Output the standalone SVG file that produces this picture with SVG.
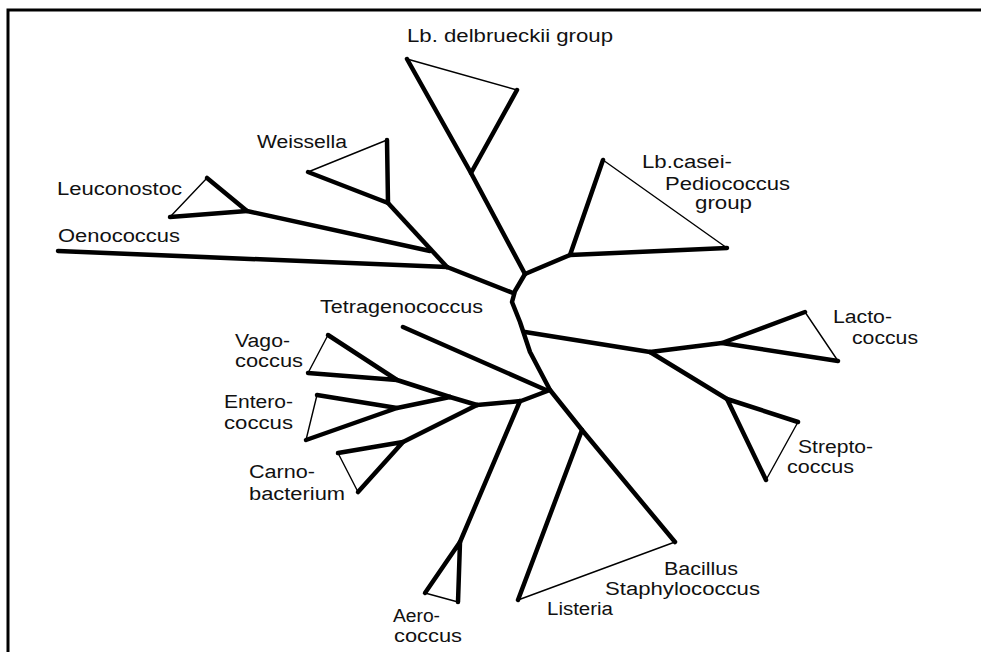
<svg xmlns="http://www.w3.org/2000/svg" width="981" height="652" viewBox="0 0 981 652">
<style>
.frame{stroke:#000;stroke-width:3;fill:none}
.br{stroke:#000;stroke-width:4.5;fill:none;stroke-linecap:round;stroke-linejoin:round}
.thin{stroke:#000;stroke-width:1.4;fill:none;stroke-linecap:round}
text{font-family:"Liberation Sans",Arial,sans-serif;font-size:18px;fill:#111}
</style>
<rect width="981" height="652" fill="#fff"/>
<path class="frame" d="M8,652 L8,10 L981,10"/>
<g id="connectors">
<line class="br" x1="58" y1="251" x2="447" y2="267"/>
<line class="br" x1="247" y1="211" x2="430" y2="251"/>
<line class="br" x1="388" y1="203" x2="447" y2="267"/>
<line class="br" x1="447" y1="267" x2="513" y2="293"/>
<line class="br" x1="471" y1="173" x2="525" y2="274"/>
<line class="br" x1="525" y1="274" x2="570" y2="255"/>
<polyline class="br" points="525,274 515,291 512,302 520,322 530,352 550,390 582,430"/>
<line class="br" x1="525" y1="332" x2="650" y2="352"/>
<line class="br" x1="650" y1="352" x2="722" y2="343"/>
<line class="br" x1="650" y1="352" x2="727" y2="399"/>
<line class="br" x1="403" y1="327" x2="546" y2="390"/>
<polyline class="br" points="550,390 521,401 477,405"/>
<line class="br" x1="520" y1="401" x2="460" y2="542"/>
<line class="br" x1="477" y1="405" x2="450" y2="397"/>
<line class="br" x1="450" y1="397" x2="397" y2="380"/>
<line class="br" x1="450" y1="397" x2="397" y2="408"/>
<line class="br" x1="477" y1="405" x2="403" y2="442"/>
</g>
<g id="lb-delbrueckii">
<polyline class="br" points="407,59 471,173 517,90"/>
<line class="thin" x1="407" y1="59" x2="517" y2="90"/>
<text x="407" y="42" textLength="206" lengthAdjust="spacingAndGlyphs">Lb. delbrueckii group</text>
</g>
<g id="weissella">
<polyline class="br" points="308,172 388,203 387,140"/>
<line class="thin" x1="308" y1="172" x2="387" y2="140"/>
<text x="257" y="148" textLength="90" lengthAdjust="spacingAndGlyphs">Weissella</text>
</g>
<g id="leuconostoc">
<polyline class="br" points="207,178 247,211 170,217"/>
<line class="thin" x1="207" y1="178" x2="170" y2="217"/>
<text x="57" y="195" textLength="125" lengthAdjust="spacingAndGlyphs">Leuconostoc</text>
</g>
<g id="oenococcus">
<text x="58" y="242" textLength="122" lengthAdjust="spacingAndGlyphs">Oenococcus</text>
</g>
<g id="tetragenococcus">
<text x="320" y="313" textLength="163" lengthAdjust="spacingAndGlyphs">Tetragenococcus</text>
</g>
<g id="lb-casei">
<polyline class="br" points="603,160 570,255 727,248"/>
<line class="thin" x1="603" y1="160" x2="727" y2="248"/>
<text x="642" y="168" textLength="90" lengthAdjust="spacingAndGlyphs">Lb.casei-</text>
<text x="665" y="190" textLength="125" lengthAdjust="spacingAndGlyphs">Pediococcus</text>
<text x="695" y="209" textLength="57" lengthAdjust="spacingAndGlyphs">group</text>
</g>
<g id="lactococcus">
<polyline class="br" points="805,312 722,343 838,361"/>
<line class="thin" x1="805" y1="312" x2="838" y2="361"/>
<text x="833" y="323" textLength="59" lengthAdjust="spacingAndGlyphs">Lacto-</text>
<text x="852" y="344" textLength="66" lengthAdjust="spacingAndGlyphs">coccus</text>
</g>
<g id="streptococcus">
<polyline class="br" points="798,422 727,399 766,480"/>
<line class="thin" x1="798" y1="422" x2="766" y2="480"/>
<text x="798" y="453" textLength="75" lengthAdjust="spacingAndGlyphs">Strepto-</text>
<text x="787" y="473" textLength="67" lengthAdjust="spacingAndGlyphs">coccus</text>
</g>
<g id="bacillus-listeria">
<polyline class="br" points="675,542 582,430 518,600"/>
<line class="thin" x1="675" y1="542" x2="518" y2="600"/>
<text x="664" y="575" textLength="74" lengthAdjust="spacingAndGlyphs">Bacillus</text>
<text x="605" y="595" textLength="155" lengthAdjust="spacingAndGlyphs">Staphylococcus</text>
<text x="547" y="615" textLength="66" lengthAdjust="spacingAndGlyphs">Listeria</text>
</g>
<g id="aerococcus">
<polyline class="br" points="425,593 460,542 458,602"/>
<line class="thin" x1="425" y1="593" x2="458" y2="602"/>
<text x="393" y="622" textLength="47" lengthAdjust="spacingAndGlyphs">Aero-</text>
<text x="394" y="642" textLength="68" lengthAdjust="spacingAndGlyphs">coccus</text>
</g>
<g id="vagococcus">
<polyline class="br" points="328,335 397,380 308,373"/>
<line class="thin" x1="328" y1="335" x2="308" y2="373"/>
<text x="235" y="347" textLength="55" lengthAdjust="spacingAndGlyphs">Vago-</text>
<text x="235" y="367" textLength="68" lengthAdjust="spacingAndGlyphs">coccus</text>
</g>
<g id="enterococcus">
<polyline class="br" points="317,395 397,408 306,440"/>
<line class="thin" x1="317" y1="395" x2="306" y2="440"/>
<text x="224" y="408" textLength="69" lengthAdjust="spacingAndGlyphs">Entero-</text>
<text x="224" y="429" textLength="69" lengthAdjust="spacingAndGlyphs">coccus</text>
</g>
<g id="carnobacterium">
<polyline class="br" points="338,453 403,442 358,492"/>
<line class="thin" x1="338" y1="453" x2="358" y2="492"/>
<text x="249" y="478" textLength="66" lengthAdjust="spacingAndGlyphs">Carno-</text>
<text x="249" y="500" textLength="96" lengthAdjust="spacingAndGlyphs">bacterium</text>
</g>
</svg>
